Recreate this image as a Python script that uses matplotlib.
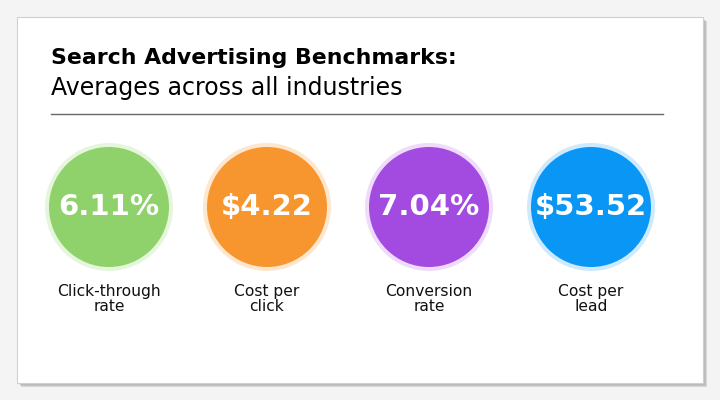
import matplotlib
matplotlib.use("Agg")
import matplotlib.pyplot as plt
from matplotlib.patches import Circle, Rectangle

values = ["6.11%", "$4.22", "7.04%", "$53.52"]
labels = ["Click-through\nrate", "Cost per\nclick", "Conversion\nrate", "Cost per\nlead"]
colors = ["#8fd16a", "#f7952f", "#a34ae0", "#0996f5"]
rings = ["#e6f6dc", "#fde7cf", "#eedcfa", "#cfeafd"]
centers_x = [109, 267, 429, 591]

fig = plt.figure(figsize=(7.2, 4.0), dpi=100)
fig.patch.set_facecolor("#f4f4f4")
ax = fig.add_axes([0, 0, 1, 1])
ax.set_xlim(0, 720); ax.set_ylim(400, 0); ax.set_aspect("equal"); ax.axis("off")

for i, a in enumerate([0.05, 0.08, 0.12]):
    ax.add_patch(Rectangle((17 + 2 + i, 17 + 2 + i), 686, 366, facecolor="#000000", alpha=a, lw=0))
ax.add_patch(Rectangle((17, 17), 686, 366, facecolor="white", edgecolor="#d0d0d0", lw=0.8))

fam = ["DejaVu Sans"]
ax.text(51, 58, "Search Advertising Benchmarks:", fontsize=15.8, fontweight="bold", family=fam, va="center", ha="left")
ax.text(51, 88, "Averages across all industries", fontsize=17, family=fam, va="center", ha="left")
ax.plot([51, 663], [114, 114], color="#666666", lw=1)

for x, v, l, c, r in zip(centers_x, values, labels, colors, rings):
    ax.add_patch(Circle((x, 207), 64, facecolor=r, lw=0))
    ax.add_patch(Circle((x, 207), 60, facecolor=c, lw=0))
    ax.text(x, 207, v, color="white", fontsize=21, fontweight="heavy", family=fam, ha="center", va="center")
    ax.text(x, 299, l, color="#111111", fontsize=11.2, family=fam, ha="center", va="center", linespacing=1.05)

fig.savefig("out.png", dpi=100, facecolor=fig.get_facecolor())
